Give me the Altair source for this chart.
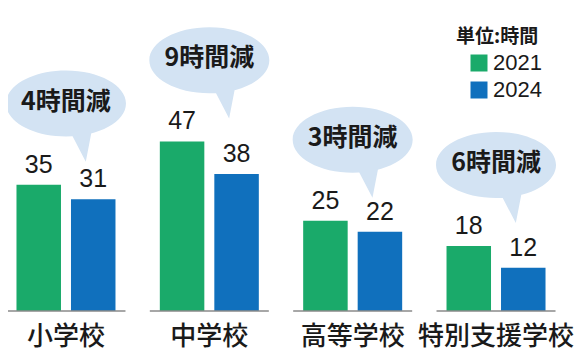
import altair as alt
import pandas as pd

schools = ["小学校", "中学校", "高等学校", "特別支援学校"]
years = ["2021", "2024"]
hours_2021 = [35, 47, 25, 18]
hours_2024 = [31, 38, 22, 12]

GREEN = "#1aaa6a"
BLUE = "#1070bd"
BUBBLE = "#d3e3f3"

df = pd.DataFrame({
    "school": schools,
    "h2021": hours_2021,
    "h2024": hours_2024,
})
df["y2021"] = years[0]
df["y2024"] = years[1]
df["label"] = [f"{a - b}時間減" for a, b in zip(hours_2021, hours_2024)]
df["bubble_y"] = df["h2021"] + 22.5
df["zero"] = 0

x_scale = alt.Scale(domain=schools, paddingInner=0.309, paddingOuter=0.059)
y_scale = alt.Scale(domain=[0, 84])
c_scale = alt.Scale(domain=years, range=[GREEN, BLUE])

X = alt.X("school:N", scale=x_scale,
          axis=alt.Axis(title=None, labelAngle=0, domain=False, ticks=False,
                        grid=False, labelFontSize=26, labelFont="Noto Sans CJK JP",
                        labelFontWeight=500, labelColor="#1a1a1a", labelPadding=12))


def Y(field):
    return alt.Y(field, scale=y_scale, axis=None)


legend = alt.Legend(
    title="単位:時間", orient="none", legendX=448, legendY=20,
    titleFontSize=19, titleFontWeight="bold",
    titleFont="Noto Sans CJK JP", titleColor="#1a1a1a",
    symbolType="square", symbolSize=289, symbolStrokeWidth=0,
    symbolOffset=12, symbolOpacity=1,
    labelFontSize=22, labelFont="Liberation Sans",
    labelColor="#1a1a1a", labelOffset=3, rowPadding=5,
    titlePadding=5, padding=0)

base = alt.Chart(df)

OFF = 27.25
BW = 44.5

bar_a = base.mark_bar(size=BW, xOffset=-OFF).encode(
    x=X, y=Y("h2021:Q"),
    color=alt.Color("y2021:N", scale=c_scale, legend=legend),
)
bar_b = base.mark_bar(size=BW, xOffset=OFF).encode(
    x=X, y=Y("h2024:Q"),
    color=alt.Color("y2024:N", scale=c_scale, legend=legend),
)

txt = dict(fontSize=25, font="Liberation Sans", color="#1a1a1a",
           baseline="alphabetic", dy=-12)
val_a = base.mark_text(xOffset=-OFF, **txt).encode(
    x=X, y=Y("h2021:Q"), text="h2021:Q")
val_b = base.mark_text(xOffset=OFF, **txt).encode(
    x=X, y=Y("h2024:Q"), text="h2024:Q")

baseline = base.mark_tick(
    size=119, thickness=1.5, color="#8a8a8a", opacity=1, orient="horizontal"
).encode(x=X, y=Y("zero:Q"))

bubble_path = (
    "M -1 0 C -1 -0.3038 -0.5523 -0.55 0 -0.55 "
    "C 0.5523 -0.55 1 -0.3038 1 0 "
    "C 1 0.3038 0.5523 0.55 0 0.55 "
    "C -0.5523 0.55 -1 0.3038 -1 0 Z "
    "M 0.06 0.45 L 0.44 0.40 L 0.33 0.97 Z"
)

bubbles = base.mark_point(
    shape=bubble_path, size=14400, filled=True, fill=BUBBLE,
    opacity=1, strokeWidth=0
).encode(x=X, y=Y("bubble_y:Q"))

bubble_text = base.mark_text(
    fontSize=25, font="Noto Sans CJK JP", fontWeight="bold",
    color="#1a1a1a", baseline="middle", dy=-2
).encode(x=X, y=Y("bubble_y:Q"), text="label:N")

chart = alt.layer(bubbles, bubble_text, bar_a, bar_b, val_a, val_b, baseline).properties(
    width=546, height=303,
    autosize=alt.AutoSizeParams(type="none"),
    padding={"left": 0, "top": 0, "right": 21, "bottom": 40},
).configure_view(stroke=None)

chart.save("out.html", embed_options={"renderer": "svg", "actions": False})
